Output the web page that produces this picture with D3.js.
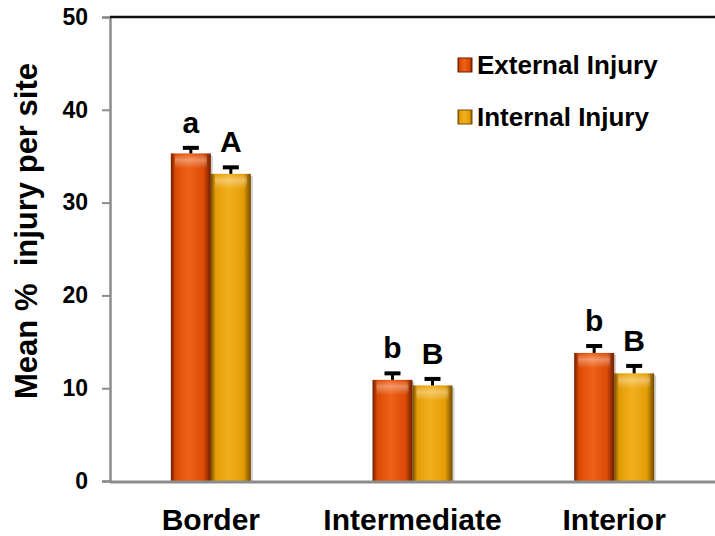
<!DOCTYPE html>
<html>
<head>
<meta charset="utf-8">
<script src="https://cdn.jsdelivr.net/npm/d3@7"></script>
<style>
  body { margin: 0; background: #fff; }
  text { font-family: Arial, "Liberation Sans", sans-serif; font-weight: bold; }
</style>
</head>
<body>
<svg id="chart" width="715" height="536"></svg>
<script>
// data
var sites = ["Border", "Intermediate", "Interior"];
var series = ["External Injury", "Internal Injury"];
var external = [35.3, 10.9, 13.8];
var internal = [33.1, 10.3, 11.6];
var externalErr = [0.6, 0.7, 0.75];
var internalErr = [0.7, 0.7, 0.8];
var externalLetters = ["a", "b", "b"];
var internalLetters = ["A", "B", "B"];
var yTicks = [0, 10, 20, 30, 40, 50];

var svg = d3.select("#chart");
var mLeft = 110, mRight = 715, mTop = 17, mBottom = 481;

var x = d3.scaleBand().domain(sites).range([mLeft, mRight]);
var xs = d3.scaleBand().domain(series).range([-40, 40]);
var y = d3.scaleLinear().domain([0, 50]).range([mBottom, mTop]);

// gradients for the shiny bars
var defs = svg.append("defs");
var looks = [
    { id: "g0", edge: "#6e1e00", mid: "#dc4a06", hi: "#ee6218" },
    { id: "g1", edge: "#744c00", mid: "#e49c04", hi: "#f2b01e" }
];
looks.forEach(function(c) {
    var g = defs.append("linearGradient").attr("id", c.id)
        .attr("x1", "0%").attr("x2", "100%").attr("y1", "0%").attr("y2", "0%");
    g.append("stop").attr("offset", "0%").attr("stop-color", c.edge);
    g.append("stop").attr("offset", "12%").attr("stop-color", c.mid);
    g.append("stop").attr("offset", "45%").attr("stop-color", c.hi);
    g.append("stop").attr("offset", "82%").attr("stop-color", c.mid);
    g.append("stop").attr("offset", "100%").attr("stop-color", c.edge);
});
var shine = defs.append("linearGradient").attr("id", "shine")
    .attr("x1", "0%").attr("x2", "0%").attr("y1", "0%").attr("y2", "100%");
shine.append("stop").attr("offset", "0%").attr("stop-color", "#fff").attr("stop-opacity", 0.05);
shine.append("stop").attr("offset", "40%").attr("stop-color", "#fff").attr("stop-opacity", 0.35);
shine.append("stop").attr("offset", "100%").attr("stop-color", "#fff").attr("stop-opacity", 0);

// y axis
var yAxis = svg.append("g").attr("transform", "translate(" + mLeft + ",0)")
    .call(d3.axisLeft(y).tickValues(yTicks).tickSize(8).tickPadding(14));
yAxis.select(".domain").attr("stroke", "#8c8c8c").attr("stroke-width", 2.5);
yAxis.selectAll(".tick line").attr("stroke", "#8c8c8c").attr("stroke-width", 2);
yAxis.selectAll(".tick text").attr("font-size", 23).attr("fill", "#000")
    .style("font-family", "Arial, 'Liberation Sans', sans-serif").style("font-weight", "bold");

// top border line
svg.append("line").attr("x1", mLeft).attr("x2", mRight).attr("y1", mTop).attr("y2", mTop)
    .attr("stroke", "#111").attr("stroke-width", 2.5);

svg.append("text")
    .attr("transform", "translate(37,231) rotate(-90)")
    .attr("text-anchor", "middle").attr("font-size", 31)
    .style("white-space", "pre")
    .text("Mean %  injury per site");

// bars
var rows = [];
sites.forEach(function(s, i) {
    rows.push({ site: s, ser: series[0], v: external[i], e: externalErr[i], l: externalLetters[i], k: 0 });
    rows.push({ site: s, ser: series[1], v: internal[i], e: internalErr[i], l: internalLetters[i], k: 1 });
});
function bx(d) { return x(d.site) + x.bandwidth() / 2 + xs(d.ser); }

svg.selectAll(".shadow").data(rows).enter().append("rect")
    .attr("x", function(d) { return bx(d) + 2; })
    .attr("y", function(d) { return y(d.v) + 2; })
    .attr("width", xs.bandwidth())
    .attr("height", function(d) { return mBottom - y(d.v); })
    .attr("fill", "#000").attr("opacity", 0.18);

svg.selectAll(".bar").data(rows).enter().append("rect")
    .attr("x", bx)
    .attr("y", function(d) { return y(d.v); })
    .attr("width", xs.bandwidth())
    .attr("height", function(d) { return mBottom - y(d.v); })
    .attr("fill", function(d) { return "url(#g" + d.k + ")"; });

svg.selectAll(".shine").data(rows).enter().append("rect")
    .attr("x", function(d) { return bx(d) + 4; })
    .attr("y", function(d) { return y(d.v) + 1; })
    .attr("width", xs.bandwidth() - 8)
    .attr("height", 14)
    .attr("fill", "url(#shine)");

// error bars, upper half only
svg.selectAll(".err").data(rows).enter().append("line")
    .attr("x1", function(d) { return bx(d) + xs.bandwidth() / 2; })
    .attr("x2", function(d) { return bx(d) + xs.bandwidth() / 2; })
    .attr("y1", function(d) { return y(d.v); })
    .attr("y2", function(d) { return y(d.v + d.e); })
    .attr("stroke", "#000").attr("stroke-width", 3);
svg.selectAll(".cap").data(rows).enter().append("line")
    .attr("x1", function(d) { return bx(d) + xs.bandwidth() / 2 - 8; })
    .attr("x2", function(d) { return bx(d) + xs.bandwidth() / 2 + 8; })
    .attr("y1", function(d) { return y(d.v + d.e); })
    .attr("y2", function(d) { return y(d.v + d.e); })
    .attr("stroke", "#000").attr("stroke-width", 4);

// significance letters
svg.selectAll(".lbl").data(rows).enter().append("text")
    .attr("x", function(d) { return bx(d) + xs.bandwidth() / 2; })
    .attr("y", function(d) { return y(d.v + d.e) - 15; })
    .attr("text-anchor", "middle").attr("font-size", 30)
    .text(function(d) { return d.l; });

// x axis
svg.append("line").attr("x1", mLeft).attr("x2", mRight).attr("y1", mBottom + 1).attr("y2", mBottom + 1)
    .attr("stroke", "#8c8c8c").attr("stroke-width", 3);
svg.selectAll(".xl").data(sites).enter().append("text")
    .attr("x", function(d) { return x(d) + x.bandwidth() / 2; })
    .attr("y", 530)
    .attr("text-anchor", "middle").attr("font-size", 30)
    .text(function(d) { return d; });

// legend
var leg = svg.selectAll(".leg").data(series).enter().append("g")
    .attr("transform", function(d, i) { return "translate(458," + (58 + i * 52) + ")"; });
leg.append("rect").attr("width", 14).attr("height", 14)
    .attr("fill", function(d, i) { return "url(#g" + i + ")"; })
    .attr("stroke", function(d, i) { return looks[i].edge; }).attr("stroke-width", 1);
leg.append("text").attr("x", 19).attr("y", 16).attr("font-size", 26)
    .text(function(d) { return d; });
</script>
</body>
</html>
